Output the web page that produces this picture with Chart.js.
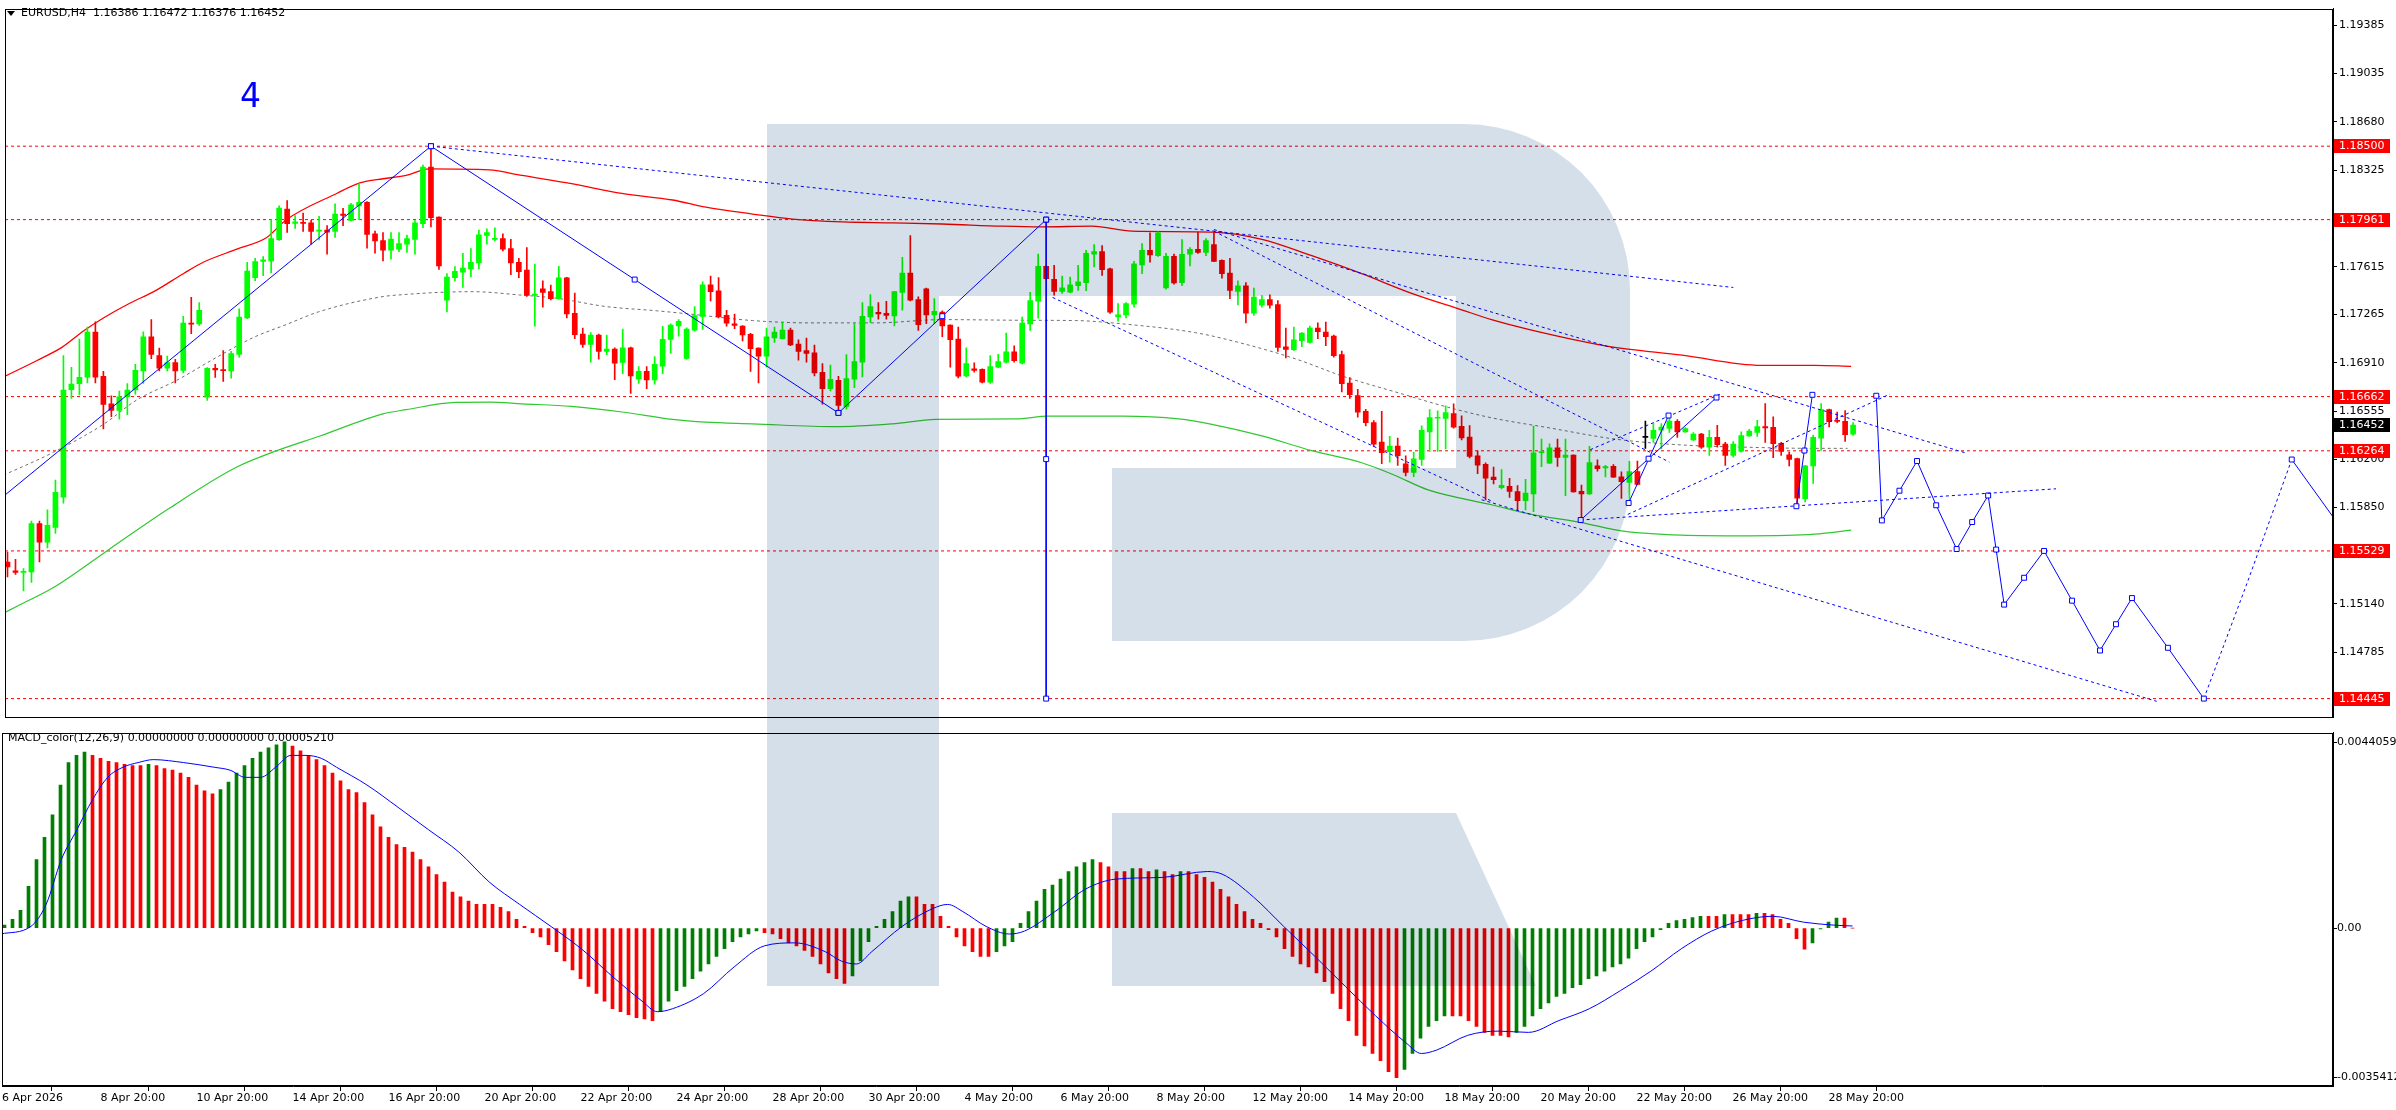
<!DOCTYPE html>
<html>
<head>
<meta charset="utf-8">
<title>EURUSD H4</title>
<script src="https://cdn.jsdelivr.net/npm/chart.js@4.4.1/dist/chart.umd.min.js"></script>
<style>
  html, body { margin: 0; padding: 0; background: #fff; }
  body { width: 2396px; height: 1110px; position: relative; overflow: hidden; font-family: "DejaVu Sans", sans-serif; }
  canvas { position: absolute; left: 0; }
  #main { top: 0; }
  #macd { top: 726px; }
  .txt { position: absolute; white-space: nowrap; font-size: 11px; line-height: 13px; color: #000; }
  .tri { position: absolute; left: 7px; top: 11px; width: 0; height: 0;
         border-left: 4px solid transparent; border-right: 4px solid transparent; border-top: 5px solid #000; }
</style>
</head>
<body>
<canvas id="main" width="2396" height="726"></canvas>
<canvas id="macd" width="2396" height="384"></canvas>
<div class="tri"></div>
<div class="txt" style="left:21px;top:6px">EURUSD,H4&nbsp;&nbsp;1.16386 1.16472 1.16376 1.16452</div>
<div class="txt" style="left:240px;top:79px;font-size:33px;line-height:33px;color:#0000ff">4</div>
<div class="txt" style="left:8px;top:731px">MACD_color(12,26,9) 0.00000000 0.00000000 0.00005210</div>
<script>
// ---- price data, one entry per H4 bar (bar 0 = 6 Apr 20:00, bar 231 = 29 May 08:00)
const opens = [
  1.15448,1.15383,1.15371,1.15375,1.15729,1.15594,1.15702,1.15924,1.16713,1.16756,
  1.16804,1.17136,1.16811,1.16609,1.16561,1.16662,1.16710,1.16850,1.17100,1.16963,
  1.16871,1.16912,1.16854,1.17201,1.17196,1.16657,1.16869,1.16857,1.16850,1.16972,
  1.17239,1.17535,1.17655,1.17658,1.17814,1.18038,1.17934,1.17937,1.17937,1.17877,
  1.17884,1.17874,1.18002,1.17956,1.18062,1.18088,1.17857,1.17807,1.17737,1.17744,
  1.17780,1.17816,1.17932,1.18346,1.17980,1.17369,1.17535,1.17576,1.17600,1.17643,
  1.17845,1.17816,1.17821,1.17749,1.17648,1.17590,1.17405,1.17453,1.17432,1.17381,
  1.17533,1.17273,1.17121,1.17044,1.17114,1.16994,1.17011,1.16912,1.17020,1.16792,
  1.16847,1.16785,1.16886,1.17081,1.17181,1.16943,1.17150,1.17251,1.17482,1.17439,
  1.17258,1.17196,1.17179,1.17119,1.17018,1.16958,1.17092,1.17088,1.17150,1.17047,
  1.16999,1.16984,1.16840,1.16720,1.16782,1.16590,1.16789,1.16914,1.17246,1.17280,
  1.17273,1.17254,1.17427,1.17569,1.17374,1.17453,1.17261,1.17282,1.17186,1.17085,
  1.16813,1.16866,1.16862,1.16768,1.16878,1.16914,1.16991,1.16907,1.17196,1.17362,
  1.17619,1.17523,1.17434,1.17429,1.17477,1.17499,1.17708,1.17727,1.17600,1.17246,
  1.17261,1.17340,1.17629,1.17735,1.17696,1.17460,1.17691,1.17499,1.17708,1.17742,
  1.17720,1.17778,1.17662,1.17569,1.17434,1.17475,1.17275,1.17333,1.17374,1.17338,
  1.17028,1.17006,1.17073,1.17059,1.17165,1.17136,1.17107,1.16970,1.16761,1.16669,
  1.16554,1.16472,1.16328,1.16258,1.16299,1.16169,1.16106,1.16200,1.16402,1.16503,
  1.16501,1.16537,1.16443,1.16364,1.16227,1.16164,1.16071,1.15994,1.16003,1.15965,
  1.15898,1.15948,1.16251,1.16174,1.16285,1.16215,1.16232,1.15967,1.15948,1.16153,
  1.16138,1.16150,1.16073,1.16032,1.16112,1.16362,1.16355,1.16415,1.16429,1.16480,
  1.16403,1.16343,1.16386,1.16290,1.16362,1.16314,1.16230,1.16261,1.16374,1.16398,
  1.16441,1.16436,1.16319,1.16234,1.16206,1.15912,1.16153,1.16357,1.16566,1.16487,
  1.16480,1.16386
];
const highs = [
  1.15520,1.15467,1.15399,1.15748,1.15748,1.15830,1.16049,1.16963,1.16876,1.17085,
  1.17172,1.17210,1.16847,1.16667,1.16703,1.16758,1.16898,1.17138,1.17227,1.17018,
  1.16960,1.16936,1.17251,1.17391,1.17352,1.16874,1.16898,1.16999,1.16994,1.17307,
  1.17648,1.17677,1.17689,1.17961,1.18062,1.18100,1.17990,1.18009,1.17956,1.17985,
  1.17917,1.18076,1.18043,1.18081,1.18225,1.18093,1.17877,1.17865,1.17865,1.17865,
  1.17848,1.17954,1.18362,1.18500,1.17982,1.17564,1.17617,1.17713,1.17749,1.17884,
  1.17893,1.17901,1.17857,1.17816,1.17677,1.17756,1.17634,1.17511,1.17480,1.17619,
  1.17537,1.17422,1.17165,1.17131,1.17121,1.17114,1.17020,1.17157,1.17025,1.16883,
  1.16883,1.16955,1.17177,1.17196,1.17227,1.17167,1.17323,1.17504,1.17547,1.17535,
  1.17295,1.17268,1.17184,1.17126,1.17020,1.17165,1.17172,1.17208,1.17165,1.17078,
  1.17092,1.17040,1.16905,1.16893,1.16811,1.16970,1.17198,1.17352,1.17410,1.17352,
  1.17362,1.17434,1.17684,1.17843,1.17395,1.17458,1.17381,1.17292,1.17188,1.17172,
  1.17020,1.16910,1.16866,1.16963,1.16972,1.17129,1.17035,1.17246,1.17427,1.17708,
  1.17624,1.17626,1.17547,1.17540,1.17626,1.17735,1.17778,1.17771,1.17605,1.17345,
  1.17352,1.17655,1.17785,1.17864,1.17872,1.17713,1.17708,1.17814,1.17756,1.17869,
  1.17821,1.17864,1.17665,1.17677,1.17511,1.17499,1.17458,1.17403,1.17408,1.17367,
  1.17165,1.17172,1.17132,1.17179,1.17203,1.17208,1.17114,1.16996,1.16801,1.16715,
  1.16568,1.16486,1.16554,1.16371,1.16357,1.16227,1.16253,1.16448,1.16566,1.16558,
  1.16595,1.16609,1.16520,1.16450,1.16263,1.16176,1.16145,1.16126,1.16061,1.16008,
  1.16054,1.16446,1.16350,1.16316,1.16350,1.16350,1.16234,1.16013,1.16297,1.16198,
  1.16157,1.16162,1.16109,1.16186,1.16189,1.16482,1.16463,1.16463,1.16518,1.16494,
  1.16434,1.16398,1.16393,1.16415,1.16451,1.16326,1.16331,1.16403,1.16422,1.16487,
  1.16610,1.16513,1.16326,1.16254,1.16210,1.16157,1.16379,1.16610,1.16571,1.16549,
  1.16559,1.16472
];
const lows = [
  1.15339,1.15356,1.15236,1.15298,1.15448,1.15551,1.15657,1.15880,1.16648,1.16674,
  1.16763,1.16763,1.16424,1.16515,1.16496,1.16530,1.16679,1.16758,1.16941,1.16850,
  1.16850,1.16763,1.16835,1.17124,1.17184,1.16633,1.16802,1.16773,1.16797,1.16951,
  1.17234,1.17513,1.17549,1.17571,1.17809,1.17867,1.17896,1.17874,1.17780,1.17812,
  1.17708,1.17831,1.17917,1.17951,1.17961,1.17752,1.17715,1.17658,1.17670,1.17725,
  1.17720,1.17708,1.17901,1.17908,1.17595,1.17283,1.17511,1.17463,1.17540,1.17600,
  1.17780,1.17804,1.17732,1.17557,1.17535,1.17398,1.17179,1.17319,1.17371,1.17376,
  1.17239,1.17088,1.17023,1.16915,1.16936,1.16970,1.16787,1.16830,1.16686,1.16758,
  1.16720,1.16753,1.16830,1.16980,1.17105,1.16936,1.17143,1.17155,1.17364,1.17239,
  1.17179,1.17160,1.17071,1.16847,1.16763,1.16878,1.17059,1.17083,1.17035,1.16929,
  1.16914,1.16813,1.16607,1.16703,1.16545,1.16570,1.16727,1.16806,1.17205,1.17230,
  1.17230,1.17181,1.17297,1.17364,1.17148,1.17198,1.17198,1.17102,1.16878,1.16799,
  1.16806,1.16842,1.16763,1.16758,1.16874,1.16910,1.16914,1.16902,1.17148,1.17237,
  1.17523,1.17407,1.17420,1.17424,1.17441,1.17439,1.17614,1.17552,1.17273,1.17215,
  1.17239,1.17318,1.17564,1.17648,1.17691,1.17451,1.17487,1.17477,1.17622,1.17713,
  1.17696,1.17653,1.17532,1.17381,1.17335,1.17203,1.17258,1.17318,1.17311,1.16994,
  1.16946,1.16999,1.17028,1.17054,1.17088,1.17035,1.16951,1.16696,1.16648,1.16510,
  1.16446,1.16294,1.16169,1.16181,1.16157,1.16080,1.16075,1.16157,1.16260,1.16260,
  1.16277,1.16431,1.16344,1.16212,1.16097,1.15904,1.16020,1.15984,1.15922,1.15828,
  1.15830,1.15818,1.16148,1.16169,1.16150,1.15934,1.15960,1.15765,1.15943,1.16114,
  1.16073,1.16068,1.15914,1.15893,1.16013,1.16282,1.16326,1.16278,1.16398,1.16362,
  1.16398,1.16338,1.16282,1.16230,1.16290,1.16157,1.16218,1.16254,1.16369,1.16369,
  1.16326,1.16213,1.16230,1.16153,1.15870,1.15888,1.16025,1.16266,1.16439,1.16470,
  1.16333,1.16376
];
const closes = [
  1.15411,1.15371,1.15375,1.15729,1.15594,1.15717,1.15960,1.16710,1.16753,1.16804,
  1.17136,1.16804,1.16604,1.16561,1.16660,1.16710,1.16854,1.17100,1.16972,1.16871,
  1.16912,1.16850,1.17201,1.17194,1.17295,1.16869,1.16857,1.16852,1.16977,1.17246,
  1.17583,1.17653,1.17665,1.17821,1.18045,1.17932,1.17944,1.17934,1.17874,1.17884,
  1.17869,1.18002,1.17992,1.18069,1.18088,1.17853,1.17804,1.17737,1.17819,1.17785,
  1.17821,1.17937,1.18346,1.17975,1.17622,1.17540,1.17581,1.17605,1.17648,1.17850,
  1.17865,1.17821,1.17744,1.17643,1.17578,1.17405,1.17415,1.17427,1.17381,1.17533,
  1.17268,1.17117,1.17044,1.17114,1.16994,1.17011,1.16907,1.17020,1.16814,1.16847,
  1.16785,1.16898,1.17083,1.17186,1.17215,1.17157,1.17256,1.17482,1.17432,1.17249,
  1.17201,1.17184,1.17114,1.17013,1.16958,1.17100,1.17136,1.17150,1.17042,1.16994,
  1.16979,1.16835,1.16720,1.16789,1.16597,1.16794,1.16919,1.17251,1.17323,1.17268,
  1.17258,1.17432,1.17569,1.17369,1.17189,1.17261,1.17287,1.17181,1.17080,1.16811,
  1.16905,1.16854,1.16768,1.16883,1.16919,1.16991,1.16926,1.17201,1.17367,1.17619,
  1.17528,1.17434,1.17460,1.17482,1.17504,1.17713,1.17727,1.17593,1.17282,1.17263,
  1.17345,1.17636,1.17735,1.17701,1.17864,1.17691,1.17496,1.17706,1.17742,1.17720,
  1.17807,1.17655,1.17564,1.17441,1.17475,1.17275,1.17393,1.17374,1.17333,1.17023,
  1.17008,1.17078,1.17129,1.17165,1.17138,1.17102,1.16963,1.16756,1.16676,1.16547,
  1.16470,1.16313,1.16251,1.16299,1.16229,1.16106,1.16205,1.16414,1.16508,1.16508,
  1.16544,1.16438,1.16359,1.16222,1.16159,1.16063,1.16052,1.16011,1.15965,1.15898,
  1.15953,1.16249,1.16256,1.16285,1.16215,1.16232,1.15963,1.15948,1.16177,1.16133,
  1.16148,1.16071,1.16037,1.16112,1.16018,1.16362,1.16415,1.16439,1.16482,1.16403,
  1.16427,1.16386,1.16290,1.16362,1.16309,1.16230,1.16314,1.16376,1.16408,1.16441,
  1.16432,1.16316,1.16259,1.16201,1.15917,1.16153,1.16362,1.16566,1.16477,1.16480,
  1.16383,1.16452
];

// ---- moving averages (bar position, price)
const redMaX = [-0.5,3.7,6.8,9.5,12,15.3,18.3,22,24.5,28.7,32.4,34.9,41.2,44.1,47,49.9,52.8,60.3,64.4,70.6,76.9,83.25,87.4,93.25,98.25,104.5,110.75,117,124.5,129.5,135.75,140.75,150.75,157,163.25,169.5,175.75,182,185.75,190.5,200,209.6,219.5,226.2,230.75];
const redMaY = [1.16806,1.16927,1.17023,1.17143,1.17239,1.17347,1.17432,1.17564,1.17648,1.17744,1.17828,1.17960,1.18153,1.18230,1.18261,1.18285,1.18333,1.18326,1.18285,1.18225,1.18153,1.18105,1.18052,1.18002,1.17965,1.17944,1.17937,1.17929,1.17913,1.17908,1.17913,1.17876,1.17869,1.17816,1.17696,1.17564,1.17420,1.17299,1.17227,1.17154,1.17035,1.16966,1.16891,1.16891,1.16884];
const greenMaX = [-0.5,1.2,5.75,12.8,20.3,28.7,33.7,39.1,47,49.9,56.1,60.3,64.4,70.6,76.9,83.25,87.4,93.25,103.7,110.75,116.2,126.2,130.3,139.5,146.6,150.75,157,163.25,169.5,173.6,177.8,185.75,190.75,197,202,209.5,217.8,226.2,230.75];
const greenMaY = [1.15072,1.15123,1.15260,1.15544,1.15844,1.16145,1.16265,1.16373,1.16535,1.16566,1.16619,1.16621,1.16609,1.16590,1.16549,1.16494,1.16474,1.16462,1.16441,1.16462,1.16494,1.16498,1.16518,1.16518,1.16498,1.16458,1.16373,1.16265,1.16176,1.16085,1.15977,1.15868,1.15797,1.15737,1.15676,1.15645,1.15640,1.15652,1.15681];
const grayMaX = [-0.5,5.75,12,16.2,21.2,26.2,30.75,34.9,39.1,47,49.9,54.1,58.25,64.1,68.7,74.9,81.2,85.4,93.25,100.3,108.7,117,127.4,133.7,139.5,148.7,154.9,161.2,167.4,173.6,179.9,185.75,192.8,201.2,209.5,217.8,226.2,230.3];
const grayMaY = [1.16085,1.16253,1.16458,1.16638,1.16782,1.16951,1.17095,1.17191,1.17287,1.17396,1.17412,1.17427,1.17432,1.17408,1.17384,1.17323,1.17292,1.17268,1.17220,1.17203,1.17203,1.17227,1.17222,1.17220,1.17196,1.17131,1.17047,1.16939,1.16806,1.16698,1.16590,1.16506,1.16434,1.16350,1.16307,1.16290,1.16282,1.16282];

// ---- horizontal levels and price axis
const levels = [1.18500, 1.17961, 1.16662, 1.16264, 1.15529, 1.14445];
const priceTicks = [1.19385,1.19035,1.18680,1.18325,1.17970,1.17615,1.17265,1.16910,1.16555,1.16200,1.15850,1.15495,1.15140,1.14785,1.14430];

// ---- wave / channel drawings (bar position, price)
const waveAX = [-0.3, 53],          waveAY = [1.15940, 1.18500];
const waveBX = [53, 78.5, 104],     waveBY = [1.18500, 1.17521, 1.16542];
const waveCX = [104, 117, 130],     waveCY = [1.16542, 1.17252, 1.17961];
const fiboX  = [130, 130, 130],     fiboY  = [1.17961, 1.16203, 1.14445];
const legS1X = [196.9, 205.4, 213.9], legS1Y = [1.15756, 1.16206, 1.16655];
const legS2X = [202.9, 207.9],      legS2Y = [1.15881, 1.16523];
const legS3X = [223.9, 224.9, 225.9], legS3Y = [1.15857, 1.16266, 1.16675];
const trendAX = [53, 216],          trendAY = [1.18500, 1.17463];
const trendBX = [151, 245],         trendBY = [1.17888, 1.16250];
const trendCX = [151, 208],         trendCY = [1.17876, 1.16181];
const trendE1X = [130.8, 186],      trendE1Y = [1.17390, 1.15888];
const trendE2X = [184.5, 269],      trendE2Y = [1.15905, 1.14425];
const trendGX = [196.9, 256.4],     trendGY = [1.15756, 1.15985];
const chanLoX = [202.8, 235.6],     chanLoY = [1.15797, 1.16680];
const chanHiX = [198.1, 214.4],     chanHiY = [1.16272, 1.16681];
const forecastX = [233.9,234.6,236.8,239.0,241.4,243.96,245.9,247.9,248.9,249.9,252.4,254.9,258.4,261.9,263.9,265.9,270.4,274.9,280.5,285.9,292.5];
const forecastY = [1.16668,1.15753,1.15971,1.16189,1.15864,1.15543,1.15741,1.15936,1.15539,1.15135,1.15332,1.15529,1.15164,1.14798,1.14991,1.15183,1.14818,1.14445,1.15323,1.16200,1.15662];

// ---- MACD panel
const macdHist = [
  0.00007,0.00021,0.00042,0.00099,0.00162,0.00215,0.00268,0.00339,0.00392,0.00409,
  0.00417,0.00409,0.00402,0.00395,0.00392,0.00388,0.00385,0.00385,0.00388,0.00385,
  0.00378,0.00374,0.00367,0.00357,0.00339,0.00325,0.00318,0.00328,0.00346,0.00367,
  0.00385,0.00402,0.00417,0.00427,0.00434,0.00441,0.00431,0.00420,0.00409,0.00399,
  0.00385,0.00367,0.00349,0.00328,0.00321,0.00297,0.00268,0.00240,0.00215,0.00198,
  0.00191,0.00180,0.00162,0.00145,0.00127,0.00109,0.00085,0.00074,0.00064,0.00056,
  0.00056,0.00056,0.00049,0.00039,0.00021,0.00004,-0.00011,-0.00021,-0.00039,-0.00056,
  -0.00078,-0.00099,-0.00120,-0.00138,-0.00155,-0.00173,-0.00191,-0.00198,-0.00205,-0.00212,
  -0.00215,-0.00219,-0.00198,-0.00173,-0.00148,-0.00138,-0.00120,-0.00102,-0.00085,-0.00067,
  -0.00049,-0.00032,-0.00021,-0.00014,-0.00007,-0.00011,-0.00014,-0.00025,-0.00035,-0.00042,
  -0.00053,-0.00067,-0.00085,-0.00106,-0.00120,-0.00131,-0.00113,-0.00078,-0.00032,0.00004,
  0.00021,0.00039,0.00064,0.00074,0.00074,0.00056,0.00056,0.00028,0.00004,-0.00021,
  -0.00042,-0.00056,-0.00067,-0.00067,-0.00056,-0.00042,-0.00032,0.00011,0.00039,0.00064,
  0.00092,0.00102,0.00116,0.00134,0.00145,0.00155,0.00162,0.00155,0.00145,0.00134,
  0.00134,0.00141,0.00141,0.00134,0.00138,0.00134,0.00127,0.00134,0.00134,0.00127,
  0.00120,0.00109,0.00092,0.00074,0.00056,0.00039,0.00021,0.00011,-0.00004,-0.00021,
  -0.00049,-0.00067,-0.00085,-0.00092,-0.00106,-0.00127,-0.00155,-0.00191,-0.00219,-0.00254,
  -0.00279,-0.00297,-0.00314,-0.00340,-0.00354,-0.00335,-0.00297,-0.00261,-0.00233,-0.00219,
  -0.00208,-0.00208,-0.00208,-0.00219,-0.00233,-0.00247,-0.00254,-0.00254,-0.00258,-0.00247,
  -0.00233,-0.00208,-0.00191,-0.00177,-0.00162,-0.00155,-0.00141,-0.00134,-0.00120,-0.00113,
  -0.00102,-0.00092,-0.00085,-0.00071,-0.00049,-0.00032,-0.00021,-0.00004,0.00011,0.00018,
  0.00021,0.00025,0.00028,0.00028,0.00028,0.00032,0.00032,0.00032,0.00032,0.00035,
  0.00035,0.00032,0.00021,0.00011,-0.00025,-0.00050,-0.00035,-0.00002,0.00014,0.00024,
  0.00024,0.00000
];
const sigX = [-0.5,3.3,5.2,7.1,9.05,11,12.9,14.8,16.7,18.6,22.4,26.2,28.2,30.1,32,33.9,35.8,37.7,39.6,41.5,45.3,49.2,53,56.8,60.6,64.4,68.3,72.1,75.9,79.7,81.6,83.5,87.4,91.2,95,98.8,102.6,104.6,106.5,108.4,112.2,116,117.9,119.8,122.7,125.6,127.5,131.3,135.1,138.9,144.7,150.4,152.3,156.1,159.9,163.8,167.6,171.4,175.2,177.1,179,182.9,186.7,190.5,194.3,198.1,202,205.8,209.6,213.4,217.2,221,224.9,228.7,231];
const sigY = [-0.00014,0.00004,0.00056,0.00162,0.00233,0.00304,0.00357,0.00381,0.00392,0.00399,0.00392,0.00381,0.00374,0.00357,0.00357,0.00381,0.00409,0.00409,0.00402,0.00381,0.00339,0.00286,0.00233,0.00180,0.00109,0.00056,0.00004,-0.00049,-0.00113,-0.00173,-0.00198,-0.00191,-0.00155,-0.00092,-0.00042,-0.00035,-0.00056,-0.00078,-0.00085,-0.00056,0.00004,0.00046,0.00056,0.00039,0.00004,-0.00014,-0.00007,0.00039,0.00092,0.00116,0.00120,0.00134,0.00127,0.00074,0.00004,-0.00067,-0.00138,-0.00208,-0.00272,-0.00297,-0.00289,-0.00254,-0.00244,-0.00247,-0.00219,-0.00191,-0.00148,-0.00102,-0.00049,-0.00007,0.00018,0.00028,0.00014,0.00007,0.00005];
const macdTicks = [0.0044059, 0, -0.0035412];
const macdTickText = ['0.0044059', '0.00', '-0.0035412'];

// ---- time axis
const xTickPos = [-0.3125,12,24,36,48,60,72,84,96,108,120,132,144,156,168,180,192,204,216,228];
const xTickText = ['6 Apr 2026','8 Apr 20:00','10 Apr 20:00','14 Apr 20:00','16 Apr 20:00','20 Apr 20:00','22 Apr 20:00','24 Apr 20:00','28 Apr 20:00','30 Apr 20:00','4 May 20:00','6 May 20:00','8 May 20:00','12 May 20:00','14 May 20:00','18 May 20:00','20 May 20:00','22 May 20:00','26 May 20:00','28 May 20:00'];

// 8 px per bar, plot area from x=2 to x=2333
const X_MIN = -0.3125, X_MAX = X_MIN + 2331 / 8;
const PRICE_MIN = 1.14307, PRICE_MAX = 1.19510;
const MACD_MIN = -0.00374, MACD_MAX = 0.00463;

const F = { family: 'DejaVu Sans', size: 11 };
const BLUE = '#0000ff';

function pts(xs, ys) { return xs.map((x, i) => ({ x: x, y: ys[i] })); }

function line(xs, ys, o) {
  return Object.assign({
    type: 'line', data: pts(xs, ys), borderWidth: 1, pointRadius: 0, fill: false,
    tension: 0, order: 0
  }, o);
}

// hollow squares on the drawing nodes
function marked(xs, ys, radii, o) {
  return line(xs, ys, Object.assign({
    borderColor: BLUE, pointStyle: 'rect', pointRadius: radii, pointBorderColor: BLUE,
    pointBackgroundColor: '#ffffff', pointBorderWidth: 1
  }, o));
}

const candleColor = opens.map((o, i) => closes[i] > o ? '#00ff00' : (closes[i] < o ? '#ff0000' : '#000000'));

const levelSets = levels.map(v => line([X_MIN, X_MAX], [v, v], {
  borderColor: '#ff0000', borderDash: [3, 3], order: 5
}));

const maSets = [
  line(redMaX, redMaY, { borderColor: '#ff0000', borderWidth: 1.3, cubicInterpolationMode: 'monotone', tension: 0.4, order: 4 }),
  line(greenMaX, greenMaY, { borderColor: '#32c832', borderWidth: 1.2, cubicInterpolationMode: 'monotone', tension: 0.4, order: 4 }),
  line(grayMaX, grayMaY, { borderColor: '#707070', borderDash: [3, 3], cubicInterpolationMode: 'monotone', tension: 0.4, order: 4 })
];

const wickSet = {
  type: 'bar', data: highs.map((h, i) => ({ x: i, y: [lows[i], h] })),
  backgroundColor: candleColor, barThickness: 1, grouped: false, minBarLength: 1, order: 3
};
const bodySet = {
  type: 'bar', data: opens.map((o, i) => ({ x: i, y: [o, closes[i]] })),
  backgroundColor: candleColor, barThickness: 5, grouped: false, minBarLength: 1, order: 2
};

const dotted = { borderColor: BLUE, borderDash: [3, 3] };
const blueSets = [
  marked(waveAX, waveAY, [0, 3.5]),
  marked(waveBX, waveBY, [3.5, 3.5, 3.5]),
  marked(waveCX, waveCY, [3.5, 3.5, 3.5]),
  marked(fiboX, fiboY, [3.5, 3.5, 3.5]),
  marked(legS1X, legS1Y, [3.5, 3.5, 3.5]),
  marked(legS2X, legS2Y, [3.5, 3.5]),
  marked(legS3X, legS3Y, [3.5, 3.5, 3.5]),
  line(trendAX, trendAY, dotted),
  line(trendBX, trendBY, dotted),
  line(trendCX, trendCY, dotted),
  line(trendE1X, trendE1Y, dotted),
  line(trendE2X, trendE2Y, dotted),
  line(trendGX, trendGY, dotted),
  line(chanLoX, chanLoY, dotted),
  line(chanHiX, chanHiY, dotted),
  marked(forecastX, forecastY, forecastX.map((x, i) => (i === 18 || i === forecastX.length - 1) ? 0 : 3.5), {
    segment: { borderDash: c => (c.p0DataIndex === 17 || c.p0DataIndex === 18) ? [3, 3] : undefined }
  })
];

// ---- plugins
const frame = {
  id: 'frame',
  afterDraw(chart) {
    const { ctx, chartArea: a } = chart;
    ctx.save();
    ctx.strokeStyle = '#000';
    ctx.lineWidth = 1;
    ctx.strokeRect(Math.round(a.left) + 0.5, Math.round(a.top) + 0.5, Math.round(a.right - a.left) - 1, Math.round(a.bottom - a.top) - 1);
    ctx.restore();
  }
};

const priceTags = {
  id: 'priceTags',
  afterDraw(chart) {
    const y = chart.scales.y, ctx = chart.ctx;
    ctx.save();
    ctx.font = '11px "DejaVu Sans"';
    ctx.textBaseline = 'middle';
    const tag = (v, bg) => {
      const py = Math.round(y.getPixelForValue(v));
      ctx.fillStyle = bg;
      ctx.fillRect(2334, py - 7, 56, 14);
      ctx.fillStyle = '#ffffff';
      ctx.fillText(v.toFixed(5), 2339, py + 0.5);
    };
    levels.forEach(v => tag(v, '#ff0000'));
    tag(closes[closes.length - 1], '#000000');
    ctx.restore();
  }
};

// broker logo behind the chart, multiplied over the drawing
const watermark = {
  id: 'watermark',
  afterDraw(chart, args, opts) {
    const ctx = chart.ctx;
    ctx.save();
    ctx.globalCompositeOperation = 'multiply';
    ctx.fillStyle = '#d5dfea';
    ctx.translate(0, -opts.offsetY);
    ctx.beginPath();
    ctx.moveTo(767, 124); ctx.lineTo(1464, 124);
    ctx.arcTo(1630, 124, 1630, 290, 166); ctx.lineTo(1630, 475);
    ctx.arcTo(1630, 641, 1464, 641, 166); ctx.lineTo(1112, 641);
    ctx.lineTo(1112, 468); ctx.lineTo(1456, 468); ctx.lineTo(1456, 296);
    ctx.lineTo(939, 296); ctx.lineTo(939, 986); ctx.lineTo(767, 986); ctx.closePath();
    ctx.moveTo(1112, 813); ctx.lineTo(1456, 813); ctx.lineTo(1536, 986); ctx.lineTo(1112, 986); ctx.closePath();
    ctx.fill();
    ctx.restore();
  }
};

const base = {
  responsive: false, animation: false, events: [],
  plugins: { legend: { display: false }, tooltip: { enabled: false } }
};

new Chart(document.getElementById('main'), {
  type: 'bar',
  data: { datasets: [...levelSets, ...maSets, wickSet, bodySet, ...blueSets] },
  options: Object.assign({}, base, {
    layout: { padding: { left: 2, top: 2, bottom: 3, right: 0 } },
    plugins: Object.assign({}, base.plugins, { watermark: { offsetY: 0 } }),
    scales: {
      x: { type: 'linear', min: X_MIN, max: X_MAX, display: false, offset: false },
      y: {
        type: 'linear', position: 'right', min: PRICE_MIN, max: PRICE_MAX, beginAtZero: false,
        afterFit: s => { s.width = 63; },
        afterBuildTicks: s => { s.ticks = priceTicks.map(v => ({ value: v })); },
        ticks: { autoSkip: false, padding: 2, color: '#000', font: F, callback: v => v.toFixed(5) },
        grid: { drawOnChartArea: false, tickLength: 4, color: '#000' },
        border: { color: '#000' }
      }
    }
  }),
  plugins: [frame, priceTags, watermark]
});

const histColors = macdHist.map((v, i) => (i === 0 || v > macdHist[i - 1]) ? '#008000' : '#ff0000');

new Chart(document.getElementById('macd'), {
  type: 'bar',
  data: {
    datasets: [
      line(sigX, sigY, { borderColor: BLUE, cubicInterpolationMode: 'monotone', tension: 0.4, order: 0 }),
      { type: 'bar', data: macdHist.map((v, i) => ({ x: i, y: v })), backgroundColor: histColors,
        barThickness: 3, grouped: false, order: 1 }
    ]
  },
  options: Object.assign({}, base, {
    layout: { padding: { left: 2, top: 1, bottom: 0, right: 0 } },
    plugins: Object.assign({}, base.plugins, { watermark: { offsetY: 726 } }),
    scales: {
      x: {
        type: 'linear', min: X_MIN, max: X_MAX, offset: false, position: 'bottom',
        afterFit: s => { s.height = 24; },
        afterBuildTicks: s => { s.ticks = xTickPos.map(v => ({ value: v })); },
        ticks: { autoSkip: false, maxRotation: 0, minRotation: 0, align: 'start', padding: 1,
                 color: '#000', font: F, callback: (v, i) => xTickText[i] },
        grid: { drawOnChartArea: false, tickLength: 5, color: '#000' },
        border: { color: '#000' }
      },
      y: {
        type: 'linear', position: 'right', min: MACD_MIN, max: MACD_MAX, beginAtZero: false,
        afterFit: s => { s.width = 63; },
        afterBuildTicks: s => { s.ticks = macdTicks.map(v => ({ value: v })); },
        ticks: { autoSkip: false, padding: 0, color: '#000', font: F, callback: (v, i) => macdTickText[i] },
        grid: { drawOnChartArea: false, tickLength: 4, color: '#000' },
        border: { color: '#000' }
      }
    }
  }),
  plugins: [frame, watermark]
});
</script>
</body>
</html>
